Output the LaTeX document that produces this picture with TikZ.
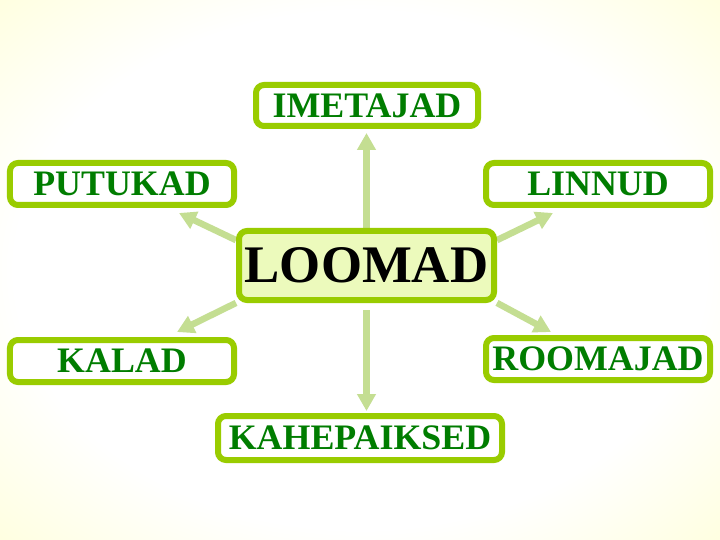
\documentclass[tikz,border=0pt]{standalone}
\usepackage{fontspec}
\setmainfont{Liberation Serif}
\usetikzlibrary{arrows.meta,backgrounds}
\definecolor{boxgreen}{RGB}{153,204,0}
\definecolor{textgreen}{RGB}{0,125,0}
\definecolor{arrowgreen}{RGB}{196,222,146}
\definecolor{mainfill}{RGB}{236,250,188}
\definecolor{bgyellow}{RGB}{255,255,185}
\pgfdeclareradialshading{bgshade}{\pgfpoint{0bp}{0bp}}{color(0bp)=(white); color(24bp)=(white); color(50bp)=(bgyellow)}
\begin{document}
\begin{tikzpicture}[x=1bp,y=-1bp,
    every node/.style={draw=boxgreen,line width=6bp,rounded corners=8bp,fill=white,
        minimum width=224bp,minimum height=42bp,inner sep=0pt,text=textgreen,
        font=\fontsize{36}{36}\selectfont\bfseries},
    link/.style={draw=arrowgreen,line width=6.5bp,-{Triangle[width=18bp,length=17bp]}}]
    \useasboundingbox (0,0) rectangle (720,540);
    % centre and the six groups
    \node (loomad) at (366.5,265.5) [fill=mainfill,minimum width=255bp,minimum height=69bp,
        text=black,font=\fontsize{53}{53}\selectfont\bfseries] {LOOMAD};
    \node (imetajad) at (367,105.5) [minimum width=222bp,minimum height=41bp] {IMETAJAD};
    \node (putukad) at (122,184) {PUTUKAD};
    \node (linnud) at (598,184) {LINNUD};
    \node (kalad) at (122,361) {KALAD};
    \node (roomajad) at (598,359) {ROOMAJAD};
    \node (kahepaiksed) at (360,438) [minimum width=284bp,minimum height=44bp] {KAHEPAIKSED};
    %
    \coordinate (putukad-tip) at (179,213);
    \coordinate (linnud-tip) at (553,213);
    \coordinate (kalad-tip) at (177,332);
    \coordinate (roomajad-tip) at (551,332);
    \begin{pgfonlayer}{background}
        \shade[shading=bgshade] (0,0) rectangle (720,540);
        \draw[link,shorten >=4bp] (loomad.north) -- (loomad.north |- imetajad.south);
        \draw[link,shorten <=7bp,shorten >=2bp] (loomad.south) -- (loomad.south |- kahepaiksed.north);
        \draw[link] (loomad.169) -- (putukad-tip);
        \draw[link] (loomad.11) -- (linnud-tip);
        \draw[link] (loomad.196) -- (kalad-tip);
        \draw[link] (loomad.344) -- (roomajad-tip);
    \end{pgfonlayer}
\end{tikzpicture}
\end{document}
